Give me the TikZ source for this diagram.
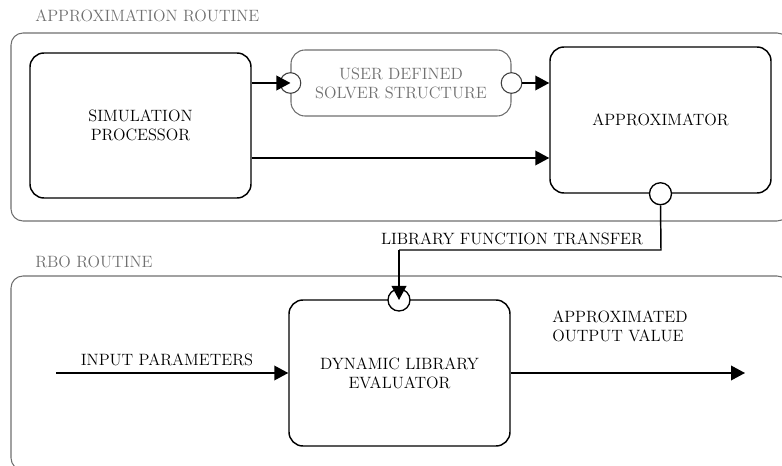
\documentclass[tikz,border=0pt]{standalone}
\usetikzlibrary{arrows.meta,fit,positioning}
\definecolor{framegray}{HTML}{6E6E6E}
\definecolor{labelgray}{HTML}{707070}
\begin{document}
\begin{tikzpicture}[x=0.75pt,y=-0.75pt,
  every node/.style={font=\fontsize{12.3}{14.25}\selectfont},
  routine/.style={draw=framegray,line width=0.8pt,rounded corners=9pt,inner sep=0pt},
  routinelabel/.style={anchor=base west,text=labelgray,inner sep=0pt},
  block/.style={draw=black,line width=1.1pt,rounded corners=10.5pt,inner sep=0pt,align=center},
  softblock/.style={draw=framegray,line width=0.8pt,rounded corners=10.5pt,inner sep=0pt,align=center,text=labelgray},
  port/.style={circle,draw=black,line width=1.0pt,fill=white,minimum size=16.5pt,inner sep=0pt},
  softport/.style={circle,draw=black!75,line width=0.8pt,fill=white,minimum size=15.5pt,inner sep=0pt},
  flow/.style={line width=1.1pt,-{Triangle[length=10.5pt,width=11pt]}},
  plainflow/.style={line width=1.1pt},
  caption/.style={anchor=base west,align=left,inner sep=0pt}]
  \useasboundingbox (0,0) rectangle (782,466);
  \clip (0,0) rectangle (782,466);

  % routine frames and their titles
  \node[routine,fit={(11,33) (789,221)}] (approxroutine) {};
  \node[routinelabel] (approxtitle) at (35,22) {APPROXIMATION ROUTINE};
  \node[routine,fit={(11,276) (789,470)}] (rboroutine) {};
  \node[routinelabel] (rbotitle) at (35,268) {RBO ROUTINE};

  % upper routine blocks
  \node[block,fit={(30,53) (251,198)}] (sim) {};
  \node (simtext) at (sim.center) [align=center] {SIMULATION\\PROCESSOR};
  \node[softblock,fit={(291,50) (511,116)}] (solver) {};
  \node (solvertext) at (solver.center) [align=center,text=labelgray] {USER DEFINED\\SOLVER STRUCTURE};
  \node[block,fit={(550,47) (771,193)}] (approx) {};
  \node (approxtext) at (approx.center) {APPROXIMATOR};

  % lower routine block
  \node[block,fit={(289,300) (510,446)}] (evaluator) {};
  \node (evaltext) at (evaluator.center) [align=center] {DYNAMIC LIBRARY\\EVALUATOR};

  % ports
  \node[softport] (solverin) at (solver.west) {};
  \node[softport] (solverout) at (solver.east) {};
  \node[port] (approxout) at (approx.south) {};
  \node[port] (evalin) at (399,300) {};

  % free ends of the open connectors
  \coordinate (inputstart) at (56,373);
  \coordinate (outputend) at (745,373);
  \coordinate (transferright) at (661,250);
  \coordinate (transferleft) at (399,250);

  % connectors
  \draw[flow] (sim.east |- solverin) -- (solverin.center);
  \draw[flow] (solverout.east) -- (approx.west |- solverout);
  \draw[flow] (sim.east |- 0,158) -- (approx.west |- 0,158);
  \draw[plainflow] (approxout.south) -- (transferright) -- (transferleft);
  \draw[flow] (transferleft) -- (evalin.center);
  \draw[flow] (inputstart) -- (evaluator.west |- inputstart);
  \draw[flow] (evaluator.east |- outputend) -- (outputend);

  % connector labels
  \node[anchor=base] (transferlabel) at (512,245) {LIBRARY FUNCTION TRANSFER};
  \node[anchor=base] (inputlabel) at (167,366) {INPUT PARAMETERS};
  \node[caption] (outputlabel) at (552,342) {APPROXIMATED\\OUTPUT VALUE};
\end{tikzpicture}
\end{document}
